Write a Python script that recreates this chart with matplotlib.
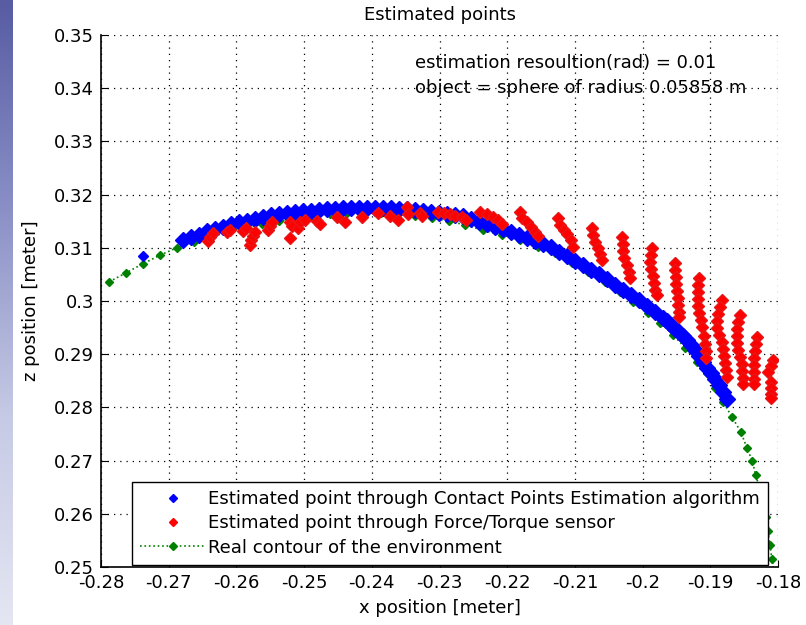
import numpy as np
import matplotlib
matplotlib.use('Agg')
import matplotlib.pyplot as plt
from matplotlib.lines import Line2D
from matplotlib.colors import LinearSegmentedColormap

plt.rcParams['font.family'] = ['DejaVu Sans']

# estimated contact points (Contact Points Estimation algorithm)
cpe_x = [-0.2738,
         -0.2679, -0.2667, -0.2655, -0.2644, -0.2632, -0.2620, -0.2608, -0.2596, -0.2584, -0.2573,
         -0.2561, -0.2549, -0.2537, -0.2525, -0.2514, -0.2502, -0.2490, -0.2478, -0.2466, -0.2454,
         -0.2443, -0.2431, -0.2419, -0.2407, -0.2395, -0.2384, -0.2372, -0.2360, -0.2348, -0.2336,
         -0.2324, -0.2313, -0.2301, -0.2289, -0.2277, -0.2265, -0.2254, -0.2242, -0.2230, -0.2218,
         -0.2206, -0.2194, -0.2183, -0.2171, -0.2159, -0.2147, -0.2135, -0.2124, -0.2112, -0.2100,
         -0.2088, -0.2076, -0.2064, -0.2053, -0.2041, -0.2029, -0.2017, -0.2005, -0.1993, -0.1982,
         -0.1970, -0.1964, -0.1958, -0.1952, -0.1946, -0.1940, -0.1934, -0.1929, -0.1923, -0.1917,
         -0.1911, -0.1905, -0.1899, -0.1893, -0.1887, -0.1881, -0.1875]
cpe_z = [0.3085,
         0.3115, 0.3120, 0.3125, 0.3131, 0.3135, 0.3140, 0.3144, 0.3148, 0.3151, 0.3154,
         0.3158, 0.3161, 0.3164, 0.3166, 0.3168, 0.3169, 0.3170, 0.3171, 0.3172, 0.3173,
         0.3174, 0.3175, 0.3175, 0.3175, 0.3175, 0.3175, 0.3174, 0.3173, 0.3172, 0.3171,
         0.3170, 0.3168, 0.3166, 0.3164, 0.3162, 0.3159, 0.3154, 0.3149, 0.3144, 0.3140,
         0.3135, 0.3130, 0.3124, 0.3119, 0.3113, 0.3108, 0.3102, 0.3093, 0.3085, 0.3076,
         0.3068, 0.3059, 0.3050, 0.3041, 0.3031, 0.3021, 0.3011, 0.3001, 0.2991, 0.2980,
         0.2968, 0.2962, 0.2955, 0.2948, 0.2941, 0.2934, 0.2927, 0.2917, 0.2908, 0.2897,
         0.2885, 0.2875, 0.2865, 0.2853, 0.2842, 0.2829, 0.2816]

# estimated points from force/torque sensor
ft_x = [-0.2642, -0.2639, -0.2635, -0.2614, -0.2609, -0.2590, -0.2586, -0.2580, -0.2578, -0.2575,
        -0.2573, -0.2553, -0.2550, -0.2547, -0.2521, -0.2521, -0.2518, -0.2509, -0.2506, -0.2499,
        -0.2481, -0.2477, -0.2451, -0.2440, -0.2414, -0.2391, -0.2373, -0.2361, -0.2348, -0.2347,
        -0.2329, -0.2326, -0.2302, -0.2293, -0.2285, -0.2277, -0.2267, -0.2261,
        -0.2240, -0.2230, -0.2221, -0.2214, -0.2208,
        -0.2181, -0.2178, -0.2171, -0.2165, -0.2159, -0.2155,
        -0.2125, -0.2122, -0.2116, -0.2112, -0.2106, -0.2103,
        -0.2075, -0.2073, -0.2070, -0.2066, -0.2063, -0.2060,
        -0.2030, -0.2029, -0.2029, -0.2028, -0.2023, -0.2020, -0.2019,
        -0.1986, -0.1988, -0.1989, -0.1988, -0.1985, -0.1983, -0.1982, -0.1979,
        -0.1952, -0.1952, -0.1951, -0.1951, -0.1949, -0.1948, -0.1948, -0.1946, -0.1946,
        -0.1917, -0.1918, -0.1918, -0.1918, -0.1918, -0.1917, -0.1914, -0.1912, -0.1909, -0.1908,
        -0.1906, -0.1906,
        -0.1883, -0.1886, -0.1889, -0.1890, -0.1890, -0.1887, -0.1883, -0.1881, -0.1880, -0.1878,
        -0.1877, -0.1875,
        -0.1856, -0.1859, -0.1861, -0.1861, -0.1861, -0.1859, -0.1856, -0.1853, -0.1853, -0.1852,
        -0.1852,
        -0.1831, -0.1833, -0.1834, -0.1836, -0.1836, -0.1836, -0.1836, -0.1836,
        -0.1808, -0.1810, -0.1815, -0.1810, -0.1810, -0.1810, -0.1810]
ft_z = [0.3113, 0.3120, 0.3128, 0.3130, 0.3133, 0.3132, 0.3137, 0.3105, 0.3115, 0.3122,
        0.3130, 0.3133, 0.3141, 0.3149, 0.3118, 0.3149, 0.3141, 0.3137, 0.3149, 0.3152,
        0.3150, 0.3145, 0.3158, 0.3149, 0.3158, 0.3165, 0.3160, 0.3152, 0.3177, 0.3164,
        0.3165, 0.3160, 0.3167, 0.3165, 0.3164, 0.3160, 0.3158, 0.3152,
        0.3167, 0.3164, 0.3158, 0.3152, 0.3145,
        0.3167, 0.3156, 0.3149, 0.3139, 0.3130, 0.3122,
        0.3156, 0.3143, 0.3133, 0.3126, 0.3115, 0.3101,
        0.3137, 0.3124, 0.3111, 0.3100, 0.3088, 0.3077,
        0.3120, 0.3107, 0.3094, 0.3081, 0.3068, 0.3055, 0.3043,
        0.3100, 0.3086, 0.3073, 0.3060, 0.3047, 0.3034, 0.3021, 0.3011,
        0.3071, 0.3058, 0.3045, 0.3032, 0.3019, 0.3006, 0.2992, 0.2979, 0.2970,
        0.3043, 0.3030, 0.3017, 0.3004, 0.2991, 0.2977, 0.2964, 0.2951, 0.2934, 0.2919,
        0.2906, 0.2893,
        0.3002, 0.2989, 0.2976, 0.2962, 0.2949, 0.2936, 0.2923, 0.2910, 0.2897, 0.2883,
        0.2870, 0.2857,
        0.2974, 0.2961, 0.2947, 0.2934, 0.2921, 0.2908, 0.2895, 0.2882, 0.2868, 0.2855,
        0.2844,
        0.2932, 0.2919, 0.2906, 0.2893, 0.2880, 0.2867, 0.2853, 0.2844,
        0.2889, 0.2878, 0.2867, 0.2848, 0.2836, 0.2825, 0.2818]

# real contour of the environment
real_x = [-0.2788, -0.2763, -0.2738, -0.2713, -0.2688, -0.2663, -0.2638, -0.2612, -0.2587, -0.2562,
          -0.2537, -0.2512, -0.2487, -0.2462, -0.2437, -0.2412, -0.2386, -0.2361, -0.2336, -0.2311,
          -0.2286, -0.2262, -0.2236, -0.2208, -0.2181, -0.2155, -0.2129, -0.2104, -0.2081, -0.2056,
          -0.2033, -0.2014, -0.1992, -0.1974, -0.1955, -0.1937, -0.1920, -0.1905, -0.1893, -0.1881,
          -0.1868, -0.1855, -0.1846, -0.1838, -0.1833, -0.1827, -0.1822, -0.1818, -0.1815, -0.1812,
          -0.1809, -0.1806]
real_z = [0.3036, 0.3053, 0.3070, 0.3086, 0.3100, 0.3111, 0.3120, 0.3130, 0.3137, 0.3145,
          0.3150, 0.3156, 0.3160, 0.3164, 0.3165, 0.3165, 0.3165, 0.3164, 0.3160, 0.3156,
          0.3150, 0.3143, 0.3133, 0.3124, 0.3115, 0.3101, 0.3090, 0.3071, 0.3054, 0.3036,
          0.3017, 0.2998, 0.2977, 0.2959, 0.2936, 0.2912, 0.2885, 0.2865, 0.2836, 0.2810,
          0.2782, 0.2754, 0.2724, 0.2699, 0.2673, 0.2647, 0.2620, 0.2594, 0.2568, 0.2541,
          0.2515, 0.2489]

xticks = [-0.28, -0.27, -0.26, -0.25, -0.24, -0.23, -0.22, -0.21, -0.2, -0.19, -0.18]
yticks = [0.25, 0.26, 0.27, 0.28, 0.29, 0.3, 0.31, 0.32, 0.33, 0.34, 0.35]

fig = plt.figure(figsize=(8.06, 6.25), dpi=100)

# slide background strip on the left
bg = fig.add_axes([0, 0, 0.015, 1])
grad = np.linspace(0, 1, 256).reshape(-1, 1)
cm = LinearSegmentedColormap.from_list('slide', ['#575ca3', '#8a90c6', '#c6cae5', '#e4e6f2'])
bg.imshow(grad, aspect='auto', cmap=cm, extent=[0, 1, 0, 1], origin='upper')
bg.axis('off')

ax = fig.add_axes([0.1253, 0.0928, 0.84, 0.8512])

dk_green = (0.0, 0.5, 0.0)
ax.plot(real_x, real_z, linestyle=':', color=dk_green, linewidth=1.2,
        marker='D', markersize=3.8, markerfacecolor=dk_green, markeredgecolor=dk_green, zorder=2)
ax.plot(cpe_x[:1], cpe_z[:1], linestyle='none', marker='D', markersize=5,
        color='#0000ff', zorder=3)
ax.plot(cpe_x[1:], cpe_z[1:], linestyle='none', marker='D', markersize=8,
        markerfacecolor='#0000ff', markeredgecolor='#0000ff', zorder=3)
ax.plot(ft_x, ft_z, linestyle='none', marker='D', markersize=6.5,
        markerfacecolor='#ff0000', markeredgecolor='#e81515', zorder=4)

ax.set_xlim(-0.28, -0.18)
ax.set_ylim(0.25, 0.35)
ax.set_xticks(xticks)
ax.set_yticks(yticks)
ax.set_xticklabels(['%g' % v for v in xticks])
ax.set_yticklabels(['%g' % v for v in yticks])
ax.tick_params(direction='in', length=5, labelsize=13, colors='black', pad=5)
ax.grid(True, linestyle=(0, (1, 4)), color='black', linewidth=0.9)
ax.spines['top'].set_visible(False)
ax.spines['right'].set_visible(False)
ax.spines['left'].set_linewidth(1.2)
ax.spines['bottom'].set_linewidth(1.2)

ax.set_title('Estimated points', fontsize=13, pad=11)
ax.set_xlabel('x position [meter]', fontsize=13, labelpad=5)
ax.set_ylabel('z position [meter]', fontsize=13, labelpad=10)

ax.text(-0.2336, 0.3447, 'estimation resoultion(rad) = 0.01', fontsize=13, va='center')
ax.text(-0.2336, 0.3400, 'object = sphere of radius 0.05858 m', fontsize=13, va='center')

handles = [
    Line2D([], [], linestyle='none', marker='D', markersize=4, color='#0000ff'),
    Line2D([], [], linestyle='none', marker='D', markersize=4, color='#ff0000'),
    Line2D([], [], linestyle=':', linewidth=1.2, marker='D', markersize=4, color=dk_green),
]
labels = ['Estimated point through Contact Points Estimation algorithm',
          'Estimated point through Force/Torque sensor',
          'Real contour of the environment']
leg = ax.legend(handles, labels, loc='lower right', bbox_to_anchor=(0.985, 0.004),
                fontsize=13.05, frameon=True, fancybox=False, edgecolor='black',
                framealpha=1, borderpad=0.45, labelspacing=0.35, handlelength=3.6,
                handletextpad=0.15, borderaxespad=0.0)
leg.get_frame().set_linewidth(1.0)
leg.set_zorder(10)

fig.savefig('out.png', dpi=100)
